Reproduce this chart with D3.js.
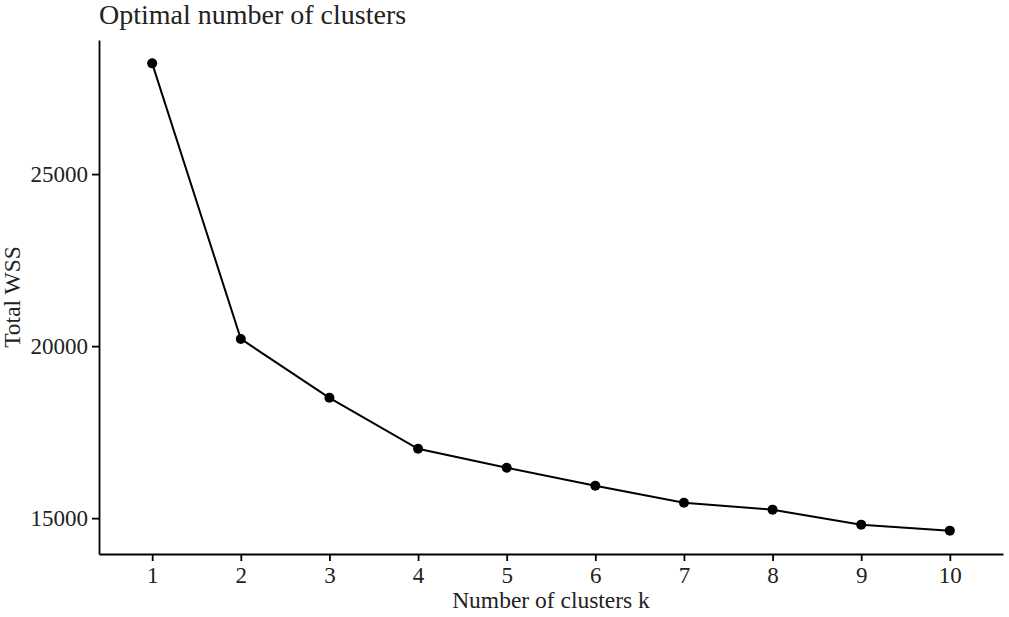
<!DOCTYPE html>
<html>
<head>
<meta charset="utf-8">
<script src="https://cdn.jsdelivr.net/npm/d3@7"></script>
<style>
  body { margin: 0; background: #fff; }
  svg text { font-family: "Liberation Serif", "DejaVu Serif", serif; fill: #222; }
</style>
</head>
<body>
<div id="chart"></div>
<script>
const clusters = ["1", "2", "3", "4", "5", "6", "7", "8", "9", "10"];
const wss = [28218, 20209, 18497, 17017, 16465, 15943, 15450, 15247, 14811, 14637];
const yTicks = [15000, 20000, 25000];

const width = 1009;
const height = 617;
const margin = { top: 40, right: 6, bottom: 63, left: 99 };

const svg = d3.select("#chart")
  .append("svg")
  .attr("width", width)
  .attr("height", height);

const innerW = width - margin.left - margin.right;
const innerH = height - margin.top - margin.bottom;

const g = svg.append("g")
  .attr("transform", `translate(${margin.left}, ${margin.top})`);

// discrete x scale, ggplot style expansion of 0.6 on each side
const x = d3.scalePoint()
  .domain(clusters)
  .range([0, innerW])
  .padding(0.6);

// continuous y with 5% expansion
const yMin = d3.min(wss), yMax = d3.max(wss);
const pad = (yMax - yMin) * 0.05;
const y = d3.scaleLinear()
  .domain([yMin - pad, yMax + pad])
  .range([innerH, 0]);

const xAxis = g.append("g")
  .attr("transform", `translate(0, ${innerH})`)
  .call(d3.axisBottom(x).tickSizeInner(7).tickSizeOuter(0).tickPadding(6));

const yAxis = g.append("g")
  .call(d3.axisLeft(y).tickValues(yTicks).tickSizeInner(7).tickSizeOuter(0).tickPadding(4).tickFormat(d3.format("d")));

[xAxis, yAxis].forEach(ax => {
  ax.select(".domain").attr("stroke", "#000").attr("stroke-width", 1.8);
  ax.selectAll(".tick line").attr("stroke", "#000").attr("stroke-width", 1.8);
  ax.selectAll(".tick text")
    .attr("fill", "#333")
    .style("font-family", '"Liberation Serif", serif')
    .style("font-size", "23px");
});

const line = d3.line()
  .x((d, i) => x(clusters[i]))
  .y(d => y(d));

g.append("path")
  .datum(wss)
  .attr("fill", "none")
  .attr("stroke", "#000")
  .attr("stroke-width", 2)
  .attr("d", line);

g.selectAll("circle")
  .data(wss)
  .enter()
  .append("circle")
  .attr("cx", (d, i) => x(clusters[i]))
  .attr("cy", d => y(d))
  .attr("r", 5)
  .attr("fill", "#000");

// title
svg.append("text")
  .attr("x", margin.left)
  .attr("y", 24)
  .style("font-size", "28px")
  .text("Optimal number of clusters");

// axis titles
svg.append("text")
  .attr("x", margin.left + innerW / 2)
  .attr("y", 608)
  .attr("text-anchor", "middle")
  .style("font-size", "23.5px")
  .text("Number of clusters k");

svg.append("text")
  .attr("transform", `translate(20, ${margin.top + innerH / 2}) rotate(-90)`)
  .attr("text-anchor", "middle")
  .style("font-size", "23.5px")
  .text("Total WSS");
</script>
</body>
</html>
